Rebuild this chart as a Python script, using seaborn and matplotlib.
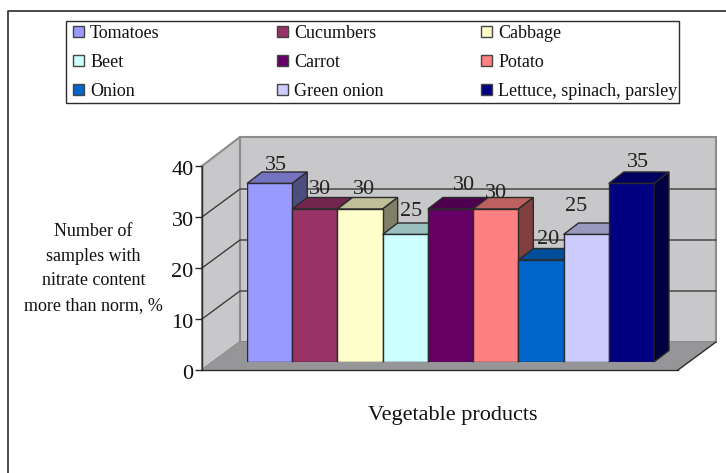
import matplotlib
matplotlib.use('Agg')
from matplotlib import pyplot as plt
from matplotlib.patches import Patch, Polygon, Rectangle
from matplotlib.transforms import ScaledTranslation
import pandas as pd
import seaborn as sns

products = ['Tomatoes', 'Cucumbers', 'Cabbage', 'Beet', 'Carrot', 'Potato',
            'Onion', 'Green onion', 'Lettuce, spinach, parsley']
values = [35, 30, 30, 25, 30, 30, 20, 25, 35]
colors = ['#9999FF', '#993366', '#FFFFCC', '#CCFFFF', '#660066', '#FF8080',
          '#0066CC', '#CCCCFF', '#000080']
y_ticks = [0, 10, 20, 30, 40]
y_title = 'Number of\nsamples with\nnitrate content\nmore than norm, %'
x_title = 'Vegetable products'

# label shifts in pixels from the middle of each bar top (they sit unevenly in the original)
label_shift = [(6, 18), (5, 19), (4, 19), (6, 23), (14, 24), (0, 16), (7, 20), (-10, 28), (7, 21)]

W, H = 726, 473
UNIT = 5.1  # pixels per y unit
sns.set_style('white')
plt.rcParams['font.family'] = ['Liberation Serif', 'DejaVu Serif']
INK = '#2b2b2b'


def box(left, top, right, bottom):
    return [left / W, 1 - bottom / H, (right - left) / W, (bottom - top) / H]


def shade(color, k):
    r, g, b = matplotlib.colors.to_rgb(color)
    return (r * k, g * k, b * k)


fig = plt.figure(figsize=(W / 100, H / 100), dpi=100, facecolor='white')

# backdrop in pixel coordinates: walls, floor, gridlines, outer frame
bg = fig.add_axes([0, 0, 1, 1], zorder=0)
bg.set_xlim(0, W)
bg.set_ylim(H, 0)
bg.axis('off')
bg.add_patch(Polygon([(240, 137), (716, 137), (716, 342), (240, 342)], fc='#C8C8CA', ec='#8c8c8c', lw=1.5))
bg.add_patch(Polygon([(202, 166), (240, 137), (240, 342), (202, 370)], fc='#C8C8CA', ec='#8c8c8c', lw=1.5))
bg.add_patch(Polygon([(202, 370), (240, 342), (716, 342), (678, 370)], fc='#969698', ec='none'))
for v in y_ticks[1:-1]:
    bg.plot([202, 240, 716], [370 - v * UNIT, 342 - v * UNIT, 342 - v * UNIT], color='#3c3c3c', lw=1)
bg.plot([678, 716], [370, 342], color=INK, lw=1)
bg.plot([8, 8, W], [H, 11.5, 11.5], color=INK, lw=1.2)

# front plane axis with the y ticks
ax = fig.add_axes(box(202, 370 - 40 * UNIT, 678, 370), zorder=1)
ax.patch.set_alpha(0)
ax.set_ylim(0, 40)
ax.set_xticks([])
ax.set_yticks(y_ticks)
ax.tick_params(axis='y', labelsize=16, length=5, width=1, color=INK, labelcolor='#111111', pad=1, left=True)
for tick in ax.get_yticklabels():
    tick.set_transform(tick.get_transform() + ScaledTranslation(0, -2 / 100, fig.dpi_scale_trans))
sns.despine(ax=ax, top=True, right=True)
for side in ['left', 'bottom']:
    ax.spines[side].set_color(INK)
    ax.spines[side].set_linewidth(1)
ax.set_xlabel(x_title, fontsize=16, color='#111111', va='center')
ax.xaxis.set_label_coords((452.5 - 202) / 476, -(415 - 370) / (40 * UNIT))
ax.set_ylabel(y_title, fontsize=13, rotation=0, linespacing=1.6, color='#111111', ha='center', va='center')
ax.yaxis.set_label_coords((93.5 - 202) / 476, (370 - 268.5) / (40 * UNIT))

# bars
bar_ax = fig.add_axes(box(247, 362 - 40 * UNIT, 654, 362), zorder=2)
bar_ax.patch.set_alpha(0)
df = pd.DataFrame({'product': products, 'value': values})
sns.barplot(data=df, x='product', y='value', hue='product', palette=colors, width=1,
            saturation=1, edgecolor=INK, linewidth=1, legend=False, ax=bar_ax)
bar_ax.set_xlim(-0.5, 8.5)
bar_ax.set_ylim(0, 40)
bar_ax.axis('off')

dx = 15 / (407 / 9)
dy = 11.5 / UNIT
for i, (bar, color) in enumerate(zip(bar_ax.patches, colors)):
    x0, x1 = bar.get_x(), bar.get_x() + bar.get_width()
    h = bar.get_height()
    bar.set_zorder(3 + i + 0.5)
    bar_ax.add_patch(Polygon([(x0, h), (x1, h), (x1 + dx, h + dy), (x0 + dx, h + dy)],
                             fc=shade(color, 0.75), ec=INK, lw=1, zorder=3 + i, clip_on=False))
    bar_ax.add_patch(Polygon([(x1, 0), (x1 + dx, dy), (x1 + dx, h + dy), (x1, h)],
                             fc=shade(color, 0.5), ec=INK, lw=1, zorder=3 + i, clip_on=False))
    sx, sy = label_shift[i]
    bar_ax.annotate(str(values[i]), (i, h), xytext=(sx, sy), textcoords='offset pixels',
                    ha='center', va='center', fontsize=16, color='#222222', zorder=20)

# legend: frame plus one legend per column, the columns are evenly spaced in the original
fig.add_artist(Rectangle((66 / W, 1 - 103 / H), 613 / W, 82 / H, transform=fig.transFigure,
                         fc='white', ec=INK, lw=1))
for col, left in enumerate([73, 277, 481]):
    handles = [Patch(facecolor=colors[k], edgecolor='#444444', label=products[k])
               for k in range(col, 9, 3)]
    leg = fig.legend(handles=handles, loc='upper left', bbox_to_anchor=(left / W, 1 - 25 / H),
                     frameon=False, fontsize=13, borderpad=0, borderaxespad=0,
                     handlelength=0.6, handleheight=0.6, handletextpad=0.35, labelspacing=0.66)
    for t in leg.get_texts():
        t.set_color('#111111')

fig.savefig('out.png', dpi=100)
